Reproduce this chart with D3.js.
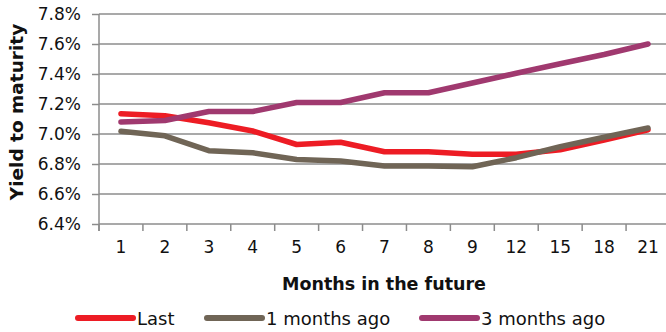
<!DOCTYPE html>
<html><head><meta charset="utf-8">
<script src="https://cdn.jsdelivr.net/npm/d3@7"></script>
<style>
html,body{margin:0;padding:0;background:#fff;}
svg{display:block;font-family:"DejaVu Sans",Verdana,sans-serif;}
</style></head>
<body><svg id="c" width="666" height="332"></svg>
<script>
const categories = ["1","2","3","4","5","6","7","8","9","12","15","18","21"];
const lastValues = [7.135,7.122,7.075,7.020,6.930,6.945,6.882,6.882,6.865,6.865,6.895,6.960,7.028];
const oneMonthAgo = [7.018,6.988,6.889,6.875,6.830,6.820,6.787,6.787,6.782,6.842,6.915,6.978,7.040];
const threeMonthsAgo = [7.080,7.090,7.150,7.150,7.210,7.210,7.275,7.275,7.340,7.405,7.468,7.530,7.600];
const yTicks = [6.4,6.6,6.8,7.0,7.2,7.4,7.6,7.8];
const seriesNames = ["Last","1 months ago","3 months ago"];
const seriesColors = ["#ED1C24","#706556","#A0396F"];
const series = [lastValues, oneMonthAgo, threeMonthsAgo];

const svg = d3.select("#c");
const x = d3.scaleBand().domain(categories).range([99, 670]);
const y = d3.scaleLinear().domain([6.4, 7.8]).range([224, 14]);

// gridlines
svg.append("g").selectAll("line").data(yTicks.filter(t=>t>6.4)).join("line")
  .attr("x1", 99).attr("x2", 670)
  .attr("y1", d=>y(d)).attr("y2", d=>y(d))
  .attr("stroke", "#8c8c8c").attr("stroke-width", 1.5);

// y axis
const yAxis = d3.axisLeft(y).tickValues(yTicks).tickFormat(d=>d.toFixed(1)+"%").tickSize(7).tickPadding(11);
const gy = svg.append("g").attr("transform","translate(99,0)").call(yAxis);
gy.select(".domain").attr("stroke","#8c8c8c").attr("stroke-width",1.5).attr("d","M0,14V231");
gy.selectAll(".tick line").attr("stroke","#8c8c8c").attr("stroke-width",1.5);
gy.selectAll(".tick text").attr("font-size",17).attr("fill","#111").attr("font-family","DejaVu Sans");

// x axis
const xAxis = d3.axisBottom(x).tickSize(0).tickPadding(17);
const gx = svg.append("g").attr("transform","translate(0,224)").call(xAxis);
gx.select(".domain").attr("stroke","#8c8c8c").attr("stroke-width",1.5).attr("d","M99,0H670");
gx.selectAll(".tick text").attr("font-size",17).attr("fill","#111").attr("font-family","DejaVu Sans");
// x tick marks at band boundaries
svg.append("g").selectAll("line").data(categories).join("line")
  .attr("x1", d=>x(d)).attr("x2", d=>x(d))
  .attr("y1", 224).attr("y2", 231)
  .attr("stroke","#8c8c8c").attr("stroke-width",1.5);

// lines
const line = d3.line().x((d,i)=>x(categories[i])+x.bandwidth()/2).y(d=>y(d));
svg.append("g").selectAll("path").data(series).join("path")
  .attr("d", d=>line(d))
  .attr("fill","none")
  .attr("stroke",(d,i)=>seriesColors[i])
  .attr("stroke-width",5.5)
  .attr("stroke-linecap","round")
  .attr("stroke-linejoin","round");

// axis titles
svg.append("text").attr("x",384).attr("y",290).attr("text-anchor","middle")
  .attr("font-size",17.5).attr("font-weight","bold").attr("fill","#111").text("Months in the future");
svg.append("text").attr("transform","translate(23,112) rotate(-90)").attr("text-anchor","middle")
  .attr("font-size",18.5).attr("font-weight","bold").attr("fill","#111").text("Yield to maturity");

// legend
const legX = [78, 207, 422];
const lg = svg.append("g").selectAll("g").data(seriesNames).join("g")
  .attr("transform",(d,i)=>`translate(${legX[i]},318)`);
lg.append("line").attr("x1",0).attr("x2",55).attr("y1",0).attr("y2",0)
  .attr("stroke",(d,i)=>seriesColors[i]).attr("stroke-width",6).attr("stroke-linecap","round");
lg.append("text").attr("x",59).attr("y",7).attr("font-size",18).attr("fill","#111").text(d=>d);
</script></body></html>
